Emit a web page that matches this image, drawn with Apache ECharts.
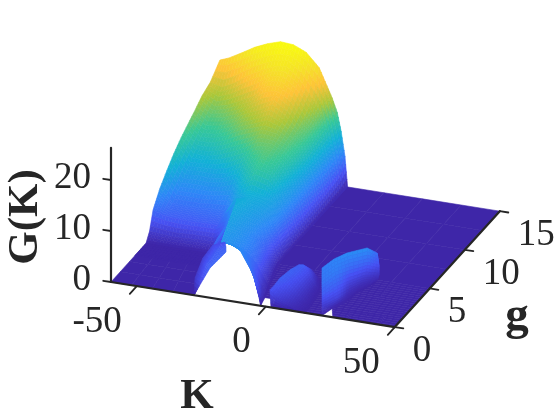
<!DOCTYPE html>
<html>
<head>
<meta charset="UTF-8"/>
<title>G(K)</title>
<script src="https://cdn.jsdelivr.net/npm/echarts@6/dist/echarts.min.js"></script>
<style>
    html, body { margin: 0; padding: 0; background: #fff; }
    #main { width: 560px; height: 420px; }
</style>
</head>
<body>
<div id="main"></div>
<script>
// tick labels
const kTicks = [-50, 0, 50];
const gTicks = [0, 5, 10, 15];
const zTicks = [0, 10, 20];

// axis ranges
const kRange = [-60, 50];
const gRange = [0, 15];
const zRange = [0, 26.3];

// main hill: rows of constant g, columns of K, heights G(K)
const hillG = [15, 14, 13, 12, 11, 10, 9, 8, 7, 6.5];
const hillK = [-60, -55, -50, -45, -40, -35, -30, -25, -20, -17, -15, -13, -11.5, -10, -9];
const hillLeftK = [-58.5, -59.5, -60, -60, -60, -60, -60, -60, -60, -60];
const hillH = [
    [20.9, 21.6, 23, 24.5, 25.6, 26.4, 26.2, 25.1, 22.5, 19.2, 17, 14.3, 10.7, 5.9, 0],
    [18, 17.3, 18.6, 20.4, 21.8, 23, 23.5, 21.4, 18, 15.7, 13.4, 10.4, 7.6, 4, 0],
    [16.8, 15.1, 15.8, 17, 18.3, 20.7, 21, 19.3, 16, 14.5, 12.8, 9.6, 6.8, 3.7, 0],
    [15.5, 13.6, 14, 15, 16.4, 17.5, 19, 17.2, 14.8, 13.8, 11.8, 8.9, 6.6, 3.4, 0],
    [14.3, 12.1, 12.3, 13.2, 14.6, 15.5, 16.4, 15.8, 14.2, 13, 11.1, 8.5, 6.3, 3.2, 0],
    [13.1, 10.4, 10.3, 11, 12, 13.2, 14.7, 14.7, 13.6, 12.3, 10, 8, 6, 3, 0],
    [11.6, 8.6, 8.9, 8.7, 9.2, 10.6, 12.8, 14, 12.9, 11, 9.2, 7.6, 5.7, 2.8, 0],
    [9.8, 6.9, 7, 6.9, 7.2, 7.9, 10.8, 12.8, 12, 10, 8.5, 7.4, 5.4, 2.6, 0],
    [7.8, 5.3, 5.2, 5.2, 5.4, 5.4, 8.9, 10.2, 9.6, 8.9, 8.3, 7, 5.2, 2.4, 0],
    [6.4, 4.8, 4.6, 4.6, 4.7, 4.8, 7.6, 9.5, 9.2, 8.7, 8, 6.9, 5, 2.3, 0]
];

// neck between the hill and the white arch
const neckG = [6.5, 6, 5, 4, 3, 2.2, 2.2, 2.2, 1.9, 1.4, 0.9, 0.4, 0];
const neckK = [
    [-29, -25, -20, -17, -15, -13, -11.5, -10, -9],
    [-28, -24, -20, -17, -15, -13, -11.5, -10, -9],
    [-28, -24, -20, -17, -15, -13, -11.5, -10, -8.5],
    [-28, -24, -20, -17, -14.5, -12.5, -10.5, -9, -7.5],
    [-28, -24, -20, -16, -13, -11, -9.5, -7.5, -6],
    [-26, -23, -20, -16, -12, -10, -8.5, -6.5, -4.8],
    [-23, -21, -20, -16, -12, -10, -8.5, -6.5, -4.8],
    [-20, -18, -16.5, -15, -12, -10, -8.5, -6.5, -4.8],
    [-15.2, -14, -13, -12, -10.5, -9, -7.8, -6, -4.3],
    [-12, -11, -10.2, -9.4, -8.6, -7.8, -6.8, -5.2, -3.6],
    [-8.6, -8, -7.4, -6.8, -6.2, -5.6, -5, -4, -3],
    [-5.8, -5.4, -5, -4.6, -4.2, -3.9, -3.5, -3, -2.5],
    [-3.8, -3.6, -3.4, -3.2, -3, -2.8, -2.6, -2.3, -2]
];
const neckH = [
    [9, 9.5, 9.2, 8.7, 8, 6.9, 5, 2.3, 0],
    [9.7, 9.4, 8.7, 8.3, 7.6, 6.6, 4.7, 2.2, 0],
    [9.3, 8.9, 8.2, 7.5, 6.8, 5.8, 4.2, 2.1, 0],
    [8.8, 8.4, 7.7, 7, 6, 5, 3.5, 1.8, 0],
    [8, 8, 7.6, 6.8, 5.8, 4.7, 3.4, 1.6, 0],
    [7, 7.4, 7.4, 6.6, 5.4, 4.5, 3.2, 1.4, 0],
    [7.4, 7.4, 7.4, 6.6, 5.4, 4.5, 3.2, 1.4, 0],
    [7.4, 7.2, 6.9, 6.7, 5.4, 4.5, 3.2, 1.4, 0],
    [7, 6.6, 6.1, 5.6, 4.9, 4, 3, 1.3, 0],
    [6.3, 5.9, 5.5, 5, 4.5, 3.7, 2.8, 1.2, 0],
    [5.5, 5.2, 4.7, 4.2, 3.7, 3.2, 2.5, 1.1, 0],
    [4.8, 4.4, 4, 3.6, 3.1, 2.7, 2, 1, 0],
    [4, 3.6, 3.2, 2.8, 2.4, 2, 1.6, 0.8, 0]
];

// left wing, in front of the hill
const wingG = [6.5, 6, 5.5, 5, 4, 3.4];
const wingK = [-60, -55, -50, -45, -40, -35, -32, -29];
const wingH = [
    [6.4, 4.8, 4.6, 4.6, 4.7, 4.8, 6.5, 9],
    [5, 4.2, 4, 3.9, 4, 4, 5, 8],
    [1.6, 1.4, 1.2, 1.4, 1.5, 1.5, 3, 7],
    [0, 0, 0, 0, 0, 0, 1.5, 6],
    [0, 0, 0, 0, 0, 0, 1, 5.5],
    [0, 0, 0, 0, 0, 0, 1, 5]
];

// fin on the left of the arch
const finK = [
    [-29, -25.5, -23.2],
    [-32.9, -27.6, -23.4],
    [-33.1, -28.2, -23.7],
    [-30.4, -26.9, -25.1],
    [-27.8, -27.8, -27.8]
];
const finG = [
    [4.84, 3.71, 2.87],
    [4.57, 3.22, 1.94],
    [3.21, 1.83, 0.77],
    [1.09, 0.24, 0],
    [0, 0, 0]
];
const finH = [
    [3, 4, 4.5],
    [2.5, 4, 4.5],
    [2, 3.5, 4.5],
    [1.5, 2.5, 2.6],
    [0, 0, 0]
];

// middle bump
const bumpAG = [4, 3, 2, 1, 0.4, 0, 0];
const bumpAK = [
    [5.6, 6.5, 7.5, 8.5, 9.5, 10.5],
    [4.6, 6.5, 8.5, 10, 11.5, 13],
    [4, 6, 8, 10, 12, 14],
    [2.8, 5, 7.5, 10, 12.5, 15],
    [2, 4.5, 7, 10, 12.5, 15],
    [1.6, 4, 7, 10, 12.5, 15],
    [2, 4, 7, 10, 12.5, 15]
];
const bumpAH = [
    [1.6, 1.8, 1.4, 0.8, 0.3, 0],
    [4, 4.1, 3, 1.6, 0.5, 0],
    [4.5, 4, 3, 1.5, 0.5, 0],
    [4.3, 3.6, 2.5, 1.2, 0.4, 0],
    [3.6, 2.8, 1.8, 0.9, 0.3, 0],
    [3.4, 2.2, 1.2, 0.5, 0.2, 0],
    [0, 0, 0, 0, 0, 0]
];

// right bump
const bumpBK = [
    [29.9, 30.2, 30.3, 29.8, 29.4],
    [29.1, 30.3, 29.5, 29.1, 28.6],
    [27.6, 28, 27.1, 26.6, 26.7],
    [22, 23.9, 24.2, 24.6, 25.7],
    [18.7, 22.2, 24.4, 25.3, 23.2],
    [16.6, 20.1, 21.8, 21.8, 21.8]
];
const bumpBG = [
    [5, 5.03, 4.85, 4.76, 4.61],
    [5.18, 5, 4.86, 4.46, 4.05],
    [4.3, 4.29, 4.2, 3.81, 3.17],
    [3.48, 3.09, 2.94, 2.67, 1.83],
    [2.86, 1.69, 1.19, 1.01, 1.05],
    [1.91, 0.61, 0, 0, 0]
];
const bumpBH = [
    [2, 1, 0.5, 0.2, 0],
    [5, 3, 1.2, 0.4, 0],
    [7.2, 4.5, 2, 0.6, 0],
    [7, 5, 2.5, 0.8, 0],
    [6.5, 6, 4.2, 2.2, 0],
    [6, 5.5, 3.8, 1.9, 0]
];

// flat parts of the floor
const floorBackG = [15, 5, 4, 3, 2, 1];
const floorBackK = [[-10, 50], [-9.5, 50], [-8, 50], [-6.5, 50], [-5, 50], [-3.5, 50]];
const floorLeftG = [5.3, 0];
const floorLeftK = [[-60, -35.6], [-60, -28]];
const floorMidG = [1, 0];
const floorMidK = [[1.4, 19], [2.4, 21.8]];
const floorRightG = [1, 0];
const floorRightK = [[23, 50], [26, 50]];

const parula = ['#3e26a8', '#4752f4', '#2d87f7', '#12b1d6', '#37c897', '#abc739', '#fec338', '#f5e427', '#f9fb0e'];

// view of the box: orthographic, in canvas units
const view = {ox: 111, oy: 282, kx: 2.58, ky: 0.41, gx: 7, gy: 7.73, zy: 5.1};

function project(k, g, z) {
    const a = k - kRange[0];
    return [view.ox + view.kx * a + view.gx * g, view.oy + view.ky * a - view.gy * g - view.zy * z];
}

function rowsPatch(rowG, rowK, rowH) {
    return {
        k: rowK,
        g: rowK.map((r, i) => r.map(() => rowG[i])),
        h: rowH || rowK.map(r => r.map(() => 0))
    };
}

const patches = [
    rowsPatch(floorBackG, floorBackK),
    rowsPatch(floorLeftG, floorLeftK),
    rowsPatch(floorMidG, floorMidK),
    rowsPatch(floorRightG, floorRightK),
    rowsPatch(hillG, hillG.map((g, i) => hillK.map((k, j) => j === 0 ? hillLeftK[i] : k)), hillH),
    rowsPatch(neckG, neckK, neckH),
    rowsPatch(wingG, wingG.map(() => wingK), wingH),
    rowsPatch(bumpAG, bumpAK, bumpAH),
    {k: bumpBK, g: bumpBG, h: bumpBH},
    {k: finK, g: finG, h: finH}
];

const cells = [];
patches.forEach((p, n) => {
    for (let i = 0; i < p.k.length - 1; i++) {
        for (let j = 0; j < p.k[0].length - 1; j++) {
            cells.push([n, i, j]);
        }
    }
});

// value inside one mesh cell, same idea as shading interp
function inCell(m, i, j, u, v) {
    const top = m[i][j] * (1 - u) + m[i][j + 1] * u;
    const bot = m[i + 1][j] * (1 - u) + m[i + 1][j + 1] * u;
    return top * (1 - v) + bot * v;
}

const steps = 4;

function renderCell(params, api) {
    const p = patches[api.value(0)];
    const i = api.value(1);
    const j = api.value(2);
    const at = (u, v) => api.coord(project(inCell(p.k, i, j, u, v), inCell(p.g, i, j, u, v), inCell(p.h, i, j, u, v)));
    const children = [];
    for (let s = 0; s < steps; s++) {
        for (let t = 0; t < steps; t++) {
            const u0 = t / steps, u1 = (t + 1) / steps, v0 = s / steps, v1 = (s + 1) / steps;
            const z = inCell(p.h, i, j, (u0 + u1) / 2, (v0 + v1) / 2);
            const c = echarts.color.lerp(Math.min(z / zRange[1], 1), parula);
            children.push({
                type: 'polygon',
                shape: {points: [at(u0, v0), at(u1, v0), at(u1, v1), at(u0, v1)]},
                style: {fill: c, stroke: c, lineWidth: 0.6}
            });
        }
    }
    return {type: 'group', children: children};
}

const axisColor = '#262626';
const digitFont = '37px "Liberation Serif"';

// [[k, g, z], [k, g, z]] pieces of the box axes
const axisSegs = [
    [[kRange[0], 0, 0], [kRange[1], 0, 0]],
    [[kRange[1], gRange[0], 0], [kRange[1], gRange[1], 0]],
    [[kRange[0], 0, zRange[0]], [kRange[0], 0, zRange[1]]]
];
kTicks.forEach(k => axisSegs.push([[k, 0, 0], [k, -1, 0]]));
gTicks.forEach(g => axisSegs.push([[kRange[1], g, 0], [kRange[1] + 3.3, g, 0]]));
zTicks.forEach(z => axisSegs.push([[kRange[0], 0, z], [kRange[0] - 3, 0, z]]));

function renderAxisSeg(params, api) {
    const seg = axisSegs[params.dataIndex];
    const a = api.coord(project(seg[0][0], seg[0][1], seg[0][2]));
    const b = api.coord(project(seg[1][0], seg[1][1], seg[1][2]));
    return {
        type: 'line',
        shape: {x1: a[0], y1: a[1], x2: b[0], y2: b[1]},
        style: {stroke: axisColor, lineWidth: params.dataIndex < 3 ? 2.2 : 1.8, lineCap: 'round'}
    };
}

const tickTexts = [];
kTicks.forEach(k => tickTexts.push({text: String(k), at: [k, 0, 0], dx: -15, dy: 36, align: 'right'}));
gTicks.forEach(g => tickTexts.push({text: String(g), at: [kRange[1], g, 0], dx: 18, dy: 24, align: 'left'}));
zTicks.forEach(z => tickTexts.push({text: String(z), at: [kRange[0], 0, z], dx: -20, dy: -2, align: 'right'}));

function renderTickText(params, api) {
    const t = tickTexts[params.dataIndex];
    const c = api.coord(project(t.at[0], t.at[1], t.at[2]));
    return {
        type: 'text',
        x: c[0] + t.dx,
        y: c[1] + t.dy,
        style: {text: t.text, font: digitFont, fill: axisColor, align: t.align, verticalAlign: 'middle'}
    };
}

const chart = echarts.init(document.getElementById('main'));
chart.setOption({
    animation: false,
    backgroundColor: '#fff',
    grid: {left: 0, right: 0, top: 0, bottom: 0},
    xAxis: {type: 'value', min: 0, max: 560, show: false},
    yAxis: {type: 'value', min: 0, max: 420, inverse: true, show: false},
    graphic: [
        {type: 'text', x: 197, y: 397, style: {text: 'K', font: 'bold 43px "Liberation Serif"', fill: axisColor, align: 'center', verticalAlign: 'middle'}},
        {type: 'text', x: 517, y: 317, style: {text: 'g', font: 'bold 47px "Liberation Serif"', fill: axisColor, align: 'center', verticalAlign: 'middle'}},
        {type: 'text', x: 26, y: 217, rotation: Math.PI / 2, style: {text: 'G(K)', font: 'bold 43px "Liberation Serif"', fill: axisColor, align: 'center', verticalAlign: 'middle'}}
    ],
    series: [
        {type: 'custom', coordinateSystem: 'cartesian2d', data: cells, renderItem: renderCell, progressive: 0, silent: true, clip: false},
        {type: 'custom', coordinateSystem: 'cartesian2d', data: axisSegs.map((s, i) => [i, 0]), renderItem: renderAxisSeg, silent: true, clip: false},
        {type: 'custom', coordinateSystem: 'cartesian2d', data: tickTexts.map((s, i) => [i, 0]), renderItem: renderTickText, silent: true, clip: false}
    ]
});
</script>
</body>
</html>
